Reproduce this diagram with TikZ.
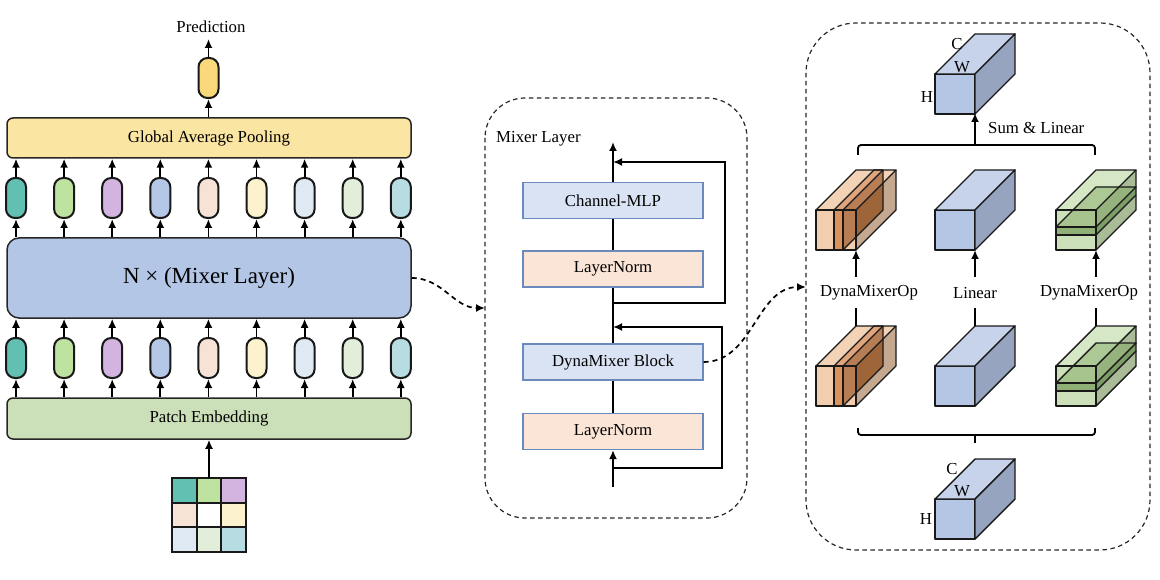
\documentclass[tikz,border=0pt]{standalone}
\usepackage{fontspec}
\setmainfont{Liberation Serif}
\usetikzlibrary{arrows.meta}
\definecolor{gapfill}{HTML}{FBE5A3}
\definecolor{mixfill}{HTML}{B4C6E6}
\definecolor{pefill}{HTML}{CBDFB8}
\definecolor{tk1}{HTML}{62C0B3}
\definecolor{tk2}{HTML}{BEE3A0}
\definecolor{tk3}{HTML}{D3B4E0}
\definecolor{tk4}{HTML}{B4C7E7}
\definecolor{tk5}{HTML}{F7E3D5}
\definecolor{tk6}{HTML}{FCF2CE}
\definecolor{tk7}{HTML}{DFE9F4}
\definecolor{tk8}{HTML}{E2EEDA}
\definecolor{tk9}{HTML}{B7DDE3}
\definecolor{predfill}{HTML}{FAD87B}
\definecolor{blueL}{HTML}{DAE3F3}
\definecolor{peachL}{HTML}{FBE5D6}
\definecolor{boxedge}{HTML}{6A89BD}
\definecolor{bfront}{HTML}{B5C6E4}
\definecolor{btop}{HTML}{C6D3EB}
\definecolor{bside}{HTML}{96A4BF}
\definecolor{ofront}{HTML}{F2CDAE}
\definecolor{otop}{HTML}{F2D3B5}
\definecolor{oslabside}{HTML}{A9683C}
\definecolor{oslabfront}{HTML}{D8935E}
\definecolor{oslabtop}{HTML}{E0A57C}
\definecolor{oside}{HTML}{7C3E07}
\definecolor{gfront}{HTML}{CCE0B9}
\definecolor{gtop}{HTML}{D6E7C6}
\definecolor{gside}{HTML}{A9BB97}
\definecolor{gslabtop}{HTML}{84AA65}
\definecolor{gbandfront}{HTML}{8FB176}
\definecolor{gbandside}{HTML}{7D9D67}
\newcommand\bluecube[2]{%
  \filldraw[cubeline, fill=bfront] (#1,#2) rectangle ++(40,40);
  \filldraw[cubeline, fill=btop] (#1,#2) -- ++(40,-40) -- ++(40,0) -- ++(-40,40) -- cycle;
  \filldraw[cubeline, fill=bside] ({#1+40},#2) -- ++(40,-40) -- ++(0,40) -- ++(-40,40) -- cycle;
}
\newcommand\orcube[2]{%
  \fill[ofront] (#1,#2) rectangle ++(40,40);
  \fill[otop] (#1,#2) -- ++(40,-40) -- ++(40,0) -- ++(-40,40) -- cycle;
  \fill[oslabside, opacity=0.8] ({#1+27},#2) -- ++(40,-40) -- ++(0,40) -- ++(-40,40) -- cycle;
  \fill[oslabfront] ({#1+18},#2) rectangle ++(9,40);
  \fill[oslabtop] ({#1+18},#2) -- ++(40,-40) -- ++(9,0) -- ++(-40,40) -- cycle;
  \fill[oside, opacity=0.45] ({#1+40},#2) -- ++(40,-40) -- ++(0,40) -- ++(-40,40) -- cycle;
  \draw[cubeline] (#1,#2) rectangle ++(40,40);
  \draw[cubeline] (#1,#2) -- ++(40,-40) -- ++(40,0) -- ++(-40,40);
  \draw[cubeline] ({#1+80},{#2-40}) -- ++(0,40) -- ++(-40,40);
  \draw[cubeline] ({#1+18},#2) rectangle ++(9,40);
  \draw[cubeline] ({#1+18},#2) -- ++(40,-40) -- ++(9,0) -- ++(0,40) -- ++(-40,40);
  \draw[cubeline] ({#1+27},#2) -- ++(40,-40);
}
\newcommand\grcube[2]{%
  \fill[gfront] (#1,#2) rectangle ++(40,40);
  \fill[gtop] (#1,#2) -- ++(40,-40) -- ++(40,0) -- ++(-40,40) -- cycle;
  \fill[gside] ({#1+40},#2) -- ++(40,-40) -- ++(0,40) -- ++(-40,40) -- cycle;
  \fill[gslabtop, opacity=0.5] (#1,{#2+17}) -- ++(40,-40) -- ++(40,0) -- ++(-40,40) -- cycle;
  \fill[gbandfront] (#1,{#2+17}) rectangle ++(40,8);
  \fill[gbandside] ({#1+40},{#2+17}) -- ++(40,-40) -- ++(0,8) -- ++(-40,40) -- cycle;
  \draw[cubeline] (#1,#2) rectangle ++(40,40);
  \draw[cubeline] (#1,#2) -- ++(40,-40) -- ++(40,0) -- ++(-40,40);
  \draw[cubeline] ({#1+80},{#2-40}) -- ++(0,40) -- ++(-40,40);
  \draw[cubeline] (#1,{#2+17}) rectangle ++(40,8);
  \draw[cubeline] (#1,{#2+17}) -- ++(40,-40) -- ++(40,0) -- ++(-40,40);
  \draw[cubeline] ({#1+40},{#2+25}) -- ++(40,-40);
}
\begin{document}
\begin{tikzpicture}[x=1pt,y=-1pt,
  font=\fontsize{16.8}{20}\selectfont,
  arr/.style={-{Latex[length=9pt,width=8pt]}, line width=1.8pt},
  plain/.style={line width=1.8pt},
  bigbox/.style={draw=black!85, line width=1.5pt, rounded corners=6pt, minimum width=404pt, inner sep=0pt},
  token/.style={draw=black!90, line width=2pt, rounded corners=9pt, minimum width=20pt, minimum height=40pt, inner sep=0pt},
  layerbox/.style={draw=boxedge, line width=1.2pt, minimum width=180pt, minimum height=36pt, inner sep=0pt},
  cell/.style={minimum size=24.3pt, inner sep=0pt},
  cellline/.style={draw=black!90, line width=2pt},
  dashpanel/.style={draw=black!85, dash pattern=on 4.5pt off 3.5pt, line width=1.2pt},
  dasharr/.style={-{Latex[length=9pt,width=8pt]}, dash pattern=on 5pt off 4pt, line width=1.7pt},
  cubeline/.style={draw=black!90, line width=1.4pt, line join=round},
  dimlbl/.style={inner sep=0pt},
]
\useasboundingbox (0,0) rectangle (1160,580);

% ---------- left column ----------
\node[bigbox, fill=gapfill, minimum height=40pt] (gap) at (209,138) {Global Average Pooling};
\node[bigbox, fill=mixfill, minimum height=80pt, rounded corners=12pt] (mix) at (209,278)
  {\fontsize{23}{27}\selectfont N × (Mixer Layer)};
\node[bigbox, fill=pefill, minimum height=41pt] (pe) at (209,418.5) {Patch Embedding};

\node[token, fill=predfill] (pt) at (208.5,78) {};
\node (predlbl) at (211,27) {Prediction};
\coordinate (predtop) at (208.5,39);
\draw[arr] (pt |- gap.north) -- (pt.south);
\draw[arr] (pt.north) -- (predtop);

\foreach \i/\c in {1/tk1,2/tk2,3/tk3,4/tk4,5/tk5,6/tk6,7/tk7,8/tk8,9/tk9}{
  \node[token, fill=\c] (a\i) at ({16+48.1*(\i-1)},198) {};
  \node[token, fill=\c] (b\i) at ({16+48.1*(\i-1)},358) {};
  \draw[arr] (a\i.north) -- (a\i.north |- gap.south);
  \draw[arr] (a\i.south |- mix.north) -- (a\i.south);
  \draw[arr] (b\i.north) -- (b\i.north |- mix.south);
  \draw[arr] (b\i.south |- pe.north) -- (b\i.south);
}

% patch grid
\node[cell, fill=tk1] (g11) at (184.7,490.7) {};
\node[cell, fill=tk2] (g12) at (209.0,490.7) {};
\node[cell, fill=tk3] (g13) at (233.3,490.7) {};
\node[cell, fill=tk5] (g21) at (184.7,515.0) {};
\node[cell, fill=white] (g22) at (209.0,515.0) {};
\node[cell, fill=tk6] (g23) at (233.3,515.0) {};
\node[cell, fill=tk7] (g31) at (184.7,539.3) {};
\node[cell, fill=tk8] (g32) at (209.0,539.3) {};
\node[cell, fill=tk9] (g33) at (233.3,539.3) {};
\foreach \n in {g11,g12,g13,g21,g22,g23,g31,g32,g33}{
  \draw[cellline] (\n.north west) rectangle (\n.south east);
}
\draw[arr] (g12.north) -- (g12.north |- pe.south);

% ---------- middle panel ----------
\draw[dashpanel, rounded corners=40pt] (485,98) rectangle (747,518);
\node[anchor=west, inner sep=0pt] (mlbl) at (496,139) {Mixer Layer};
\node[layerbox, fill=blueL] (cmlp) at (613,200.5) {Channel-MLP};
\node[layerbox, fill=peachL] (ln1) at (613,269) {LayerNorm};
\node[layerbox, fill=blueL] (dmb) at (613,362) {DynaMixer Block};
\node[layerbox, fill=peachL] (ln2) at (613,431.5) {LayerNorm};
\coordinate (mtop) at (613,142);
\coordinate (mbot) at (613,487);
\draw[arr] (mbot) -- (ln2.south);
\draw[plain] (ln2.north) -- (dmb.south);
\draw[plain] (dmb.north) -- (ln1.south);
\draw[plain] (ln1.north) -- (cmlp.south);
\draw[arr] (cmlp.north) -- (mtop);
\coordinate (r1s) at (613,303);
\coordinate (r1e) at (613,162);
\coordinate (r2s) at (613,468);
\coordinate (r2e) at (613,327);
\draw[arr] (r1s) -- ++(112,0) |- (r1e);
\draw[arr] (r2s) -- ++(109,0) |- (r2e);

% dashed connectors
\coordinate (p1) at (485,308);
\coordinate (p2) at (806,287);
\draw[dasharr] (mix.east) to[out=0,in=180] (p1);
\draw[dasharr] (dmb.east) to[out=0,in=180] (p2);

% ---------- right panel ----------
\draw[dashpanel, rounded corners=50pt] (806,23) rectangle (1150,550);

% top output cube
\bluecube{935}{74}
\node[dimlbl] (tC) at (957,44) {C};
\node[dimlbl] (tW) at (962,67) {W};
\node[dimlbl] (tH) at (927,97) {H};

% top brace + arrow
\draw[plain, rounded corners=3pt] (858,155) -- (858,145) -- (1095,145) -- (1095,155);
\coordinate (bt) at (975,145);
\coordinate (tcb) at (975,113);
\draw[arr] (bt) -- (tcb);
\node[anchor=west, inner sep=0pt] (sumlbl) at (988,128) {Sum \& Linear};

% upper row cubes
\orcube{816}{210}
\bluecube{935}{210}
\grcube{1056}{210}

% labels
\node (lblL) at (869,293) {DynaMixerOp};
\node (lblM) at (975,293) {Linear};
\node (lblR) at (1089,293) {DynaMixerOp};

\coordinate (uL) at (856,277); \coordinate (uLc) at (856,250);
\coordinate (uM) at (975,277); \coordinate (uMc) at (975,250);
\coordinate (uR) at (1096,277); \coordinate (uRc) at (1096,250);
\draw[arr] (uL) -- (uLc);
\draw[arr] (uM) -- (uMc);
\draw[arr] (uR) -- (uRc);

% lower row cubes
\orcube{816}{366}
\bluecube{935}{366}
\grcube{1056}{366}

\coordinate (dL) at (856,308); \coordinate (dLc) at (856,326);
\coordinate (dM) at (975,308); \coordinate (dMc) at (975,326);
\coordinate (dR) at (1096,308); \coordinate (dRc) at (1096,326);
\draw[plain] (dL) -- (dLc);
\draw[plain] (dM) -- (dMc);
\draw[plain] (dR) -- (dRc);

% bottom brace
\draw[plain, rounded corners=3pt] (858,428) -- (858,435) -- (1095,435) -- (1095,428);
\coordinate (bb1) at (975,435);
\coordinate (bb2) at (975,443);
\draw[plain] (bb1) -- (bb2);

% bottom input cube
\bluecube{935}{499}
\node[dimlbl] (bC) at (952,469) {C};
\node[dimlbl] (bW) at (962,491) {W};
\node[dimlbl] (bH) at (926,519) {H};
\end{tikzpicture}
\end{document}
